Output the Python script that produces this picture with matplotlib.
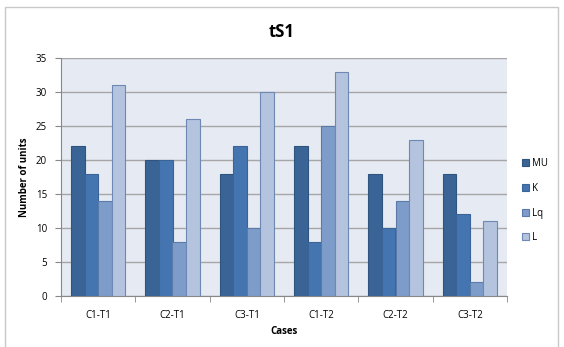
import numpy as np
import matplotlib.pyplot as plt
from matplotlib.patches import Rectangle

cases = ["C1-T1", "C2-T1", "C3-T1", "C1-T2", "C2-T2", "C3-T2"]
series = ["MU", "K", "Lq", "L"]
mu = [22, 20, 18, 22, 18, 18]
k = [18, 20, 22, 8, 10, 12]
lq = [14, 8, 10, 25, 14, 2]
l = [31, 26, 30, 33, 23, 11]
yticks = [0, 5, 10, 15, 20, 25, 30, 35]

colors = ["#3A6496", "#4575B0", "#7E9CC9", "#B4C4DF"]
edges = ["#2F5480", "#3A6398", "#5A7BAA", "#6E88B4"]

plt.rcParams["font.family"] = ["Open Sans", "DejaVu Sans"]

fig = plt.figure(figsize=(5.64, 3.47), dpi=100)
fig.patches.append(Rectangle((5 / 564, -0.02), 553 / 564, 1 - 7 / 347 + 0.02,
                             transform=fig.transFigure, fill=False,
                             edgecolor="#C8C8C8", linewidth=1))

ax = fig.add_axes([61 / 564, 1 - 296 / 347, 446 / 564, 238 / 347])
ax.set_facecolor("#E6EBF3")

x = np.arange(len(cases))
w = 0.183
for i, vals in enumerate([mu, k, lq, l]):
    ax.bar(x + (i - 1.5) * w, vals, w, color=colors[i], edgecolor=edges[i],
           linewidth=0.8, label=series[i], zorder=3)

ax.set_xlim(-0.5, len(cases) - 0.5)
ax.set_ylim(0, 35)
ax.set_yticks(yticks)
ax.yaxis.grid(True, color="#A6A6A6", linewidth=1, zorder=0)
ax.set_xticks(x)
ax.set_xticklabels(cases, fontsize=7)
ax.set_xticks(np.arange(-0.5, len(cases)), minor=True)
ax.tick_params(axis="x", which="major", length=0, pad=10)
ax.tick_params(axis="x", which="minor", length=4, color="#888888")
ax.tick_params(axis="y", labelsize=7, length=4, color="#888888", pad=6)
for side in ["top", "right"]:
    ax.spines[side].set_visible(False)
for side in ["left", "bottom"]:
    ax.spines[side].set_color("#888888")

ax.set_xlabel("Cases", fontsize=7, fontweight="bold", labelpad=4)
ax.set_ylabel("Number of units", fontsize=7, fontweight="bold", labelpad=4)
fig.text(0.5, 1 - 32 / 347, "tS1", ha="center", va="center",
         fontsize=12, fontweight="bold")

ax.legend(loc="upper left", bbox_to_anchor=(1.025, 0.595), frameon=False,
          fontsize=7, handlelength=0.7, handleheight=0.7, handletextpad=0.3,
          labelspacing=1.4, borderaxespad=0)

fig.savefig("out.png", dpi=100)
